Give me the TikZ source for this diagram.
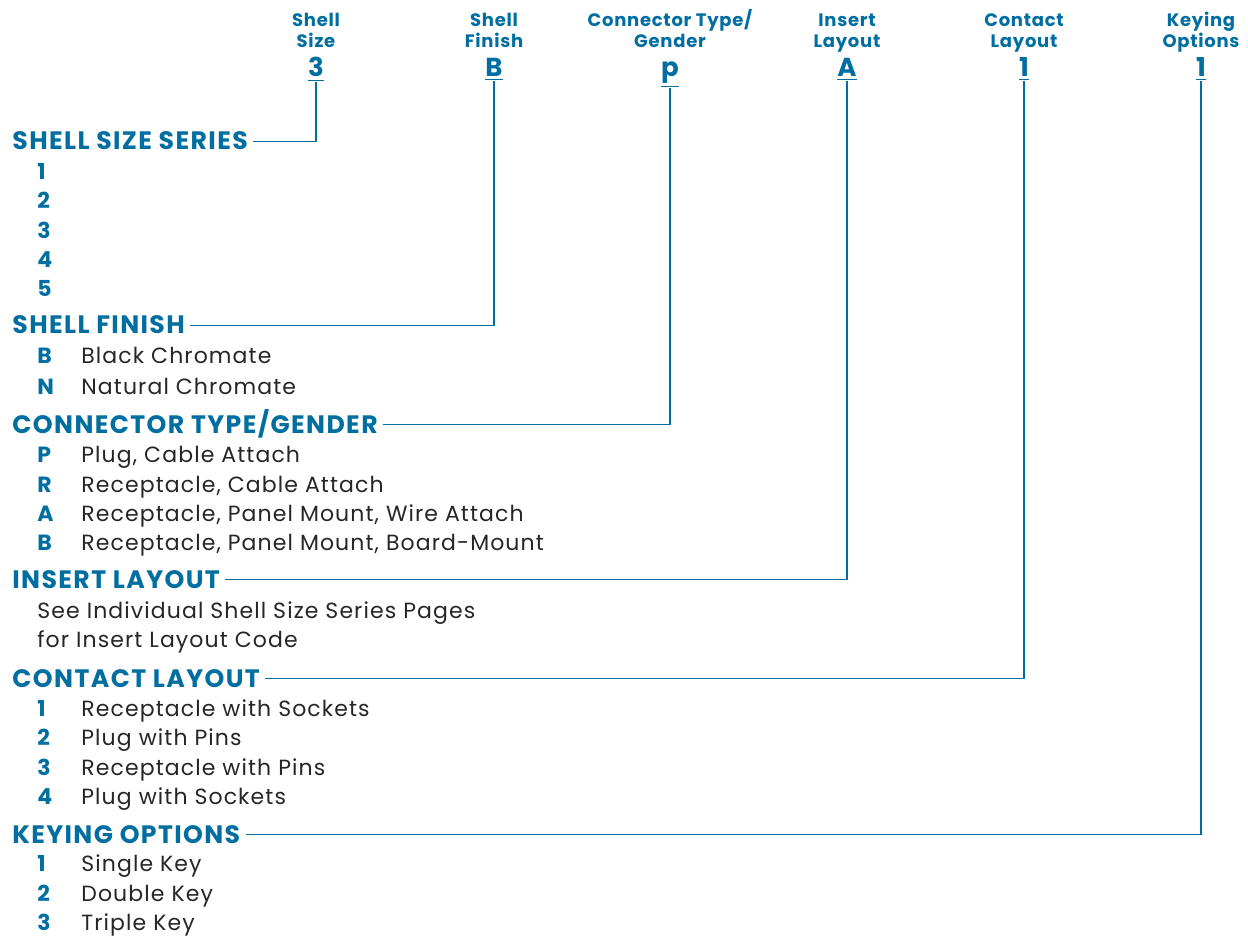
\documentclass[tikz,border=0pt]{standalone}
\usepackage{fontspec}
\setmainfont{Poppins}[LetterSpace=4]
\newfontfamily\headfont{Poppins}[LetterSpace=5.5]
\newfontfamily\bodyfont{Poppins}[LetterSpace=5]
\definecolor{specblue}{RGB}{0,110,160}
\begin{document}
\begin{tikzpicture}[x=0.5pt,y=-0.5pt,
    hdr/.style={font=\bfseries\fontsize{9}{10.5}\selectfont, text=specblue, align=center, inner sep=0pt, anchor=base},
    code/.style={font=\bfseries\fontsize{13}{15}\selectfont, text=specblue, inner sep=0pt, anchor=base},
    head/.style={font=\headfont\bfseries\fontsize{12.6}{14}\selectfont, text=specblue, inner sep=0pt, anchor=base west, text height=8.5pt, text depth=0pt},
    key/.style={font=\bfseries\fontsize{11}{12}\selectfont, text=specblue, inner sep=0pt, anchor=base west},
    desc/.style={font=\bodyfont\fontsize{11}{12}\selectfont, text=black!85, inner sep=0pt, anchor=base west},
    link/.style={specblue, line width=0.55pt}]
    \useasboundingbox (0,0) rectangle (1248,936);

    % part number fields
    \node[hdr] (tsize) at (316,48) {Shell\\Size};
    \node[hdr] (tfin) at (494,48) {Shell\\Finish};
    \node[hdr] (ttype) at (670,48) {Connector Type/\\Gender};
    \node[hdr] (tins) at (847,48) {Insert\\Layout};
    \node[hdr] (tcon) at (1024,48) {Contact\\Layout};
    \node[hdr] (tkey) at (1201,48) {Keying\\Options};
    \node[code] (csize) at (316,77) {\underline{3}};
    \node[code] (cfin) at (494,77) {\underline{B}};
    \node[code] (ctype) at (670,77) {\underline{p}};
    \node[code] (cins) at (847,77) {\underline{A}};
    \node[code] (ccon) at (1024,77) {\underline{1}};
    \node[code] (ckey) at (1201,77) {\underline{1}};

    % sections
    \node[head] (hsize) at (12,150) {SHELL SIZE SERIES};
    \foreach \k/\y in {1/180,2/209,3/239,4/268,5/297}
        \node[key] (size\k) at (37,\y) {\k};

    \node[head] (hfin) at (12,334) {SHELL FINISH};
    \foreach \k/\d/\y [count=\i] in {B/Black Chromate/364,N/Natural Chromate/394} {
        \node[key] (fink\i) at (37,\y) {\k};
        \node[desc] (find\i) at (81,\y) {\d};
    }

    \node[head] (htype) at (12,433) {CONNECTOR TYPE/GENDER};
    \foreach \k/\d/\y [count=\i] in {P/{Plug, Cable Attach}/462,R/{Receptacle, Cable Attach}/492,
        A/{Receptacle, Panel Mount, Wire Attach}/521,B/{Receptacle, Panel Mount, Board-Mount}/550} {
        \node[key] (typek\i) at (37,\y) {\k};
        \node[desc] (typed\i) at (81,\y) {\d};
    }

    \node[head] (hins) at (12,588) {INSERT LAYOUT};
    \node[desc] (ins1) at (37,618) {See Individual Shell Size Series Pages};
    \node[desc] (ins2) at (37,647) {for Insert Layout Code};

    \node[head] (hcon) at (12,687) {CONTACT LAYOUT};
    \foreach \k/\d/\y in {1/Receptacle with Sockets/716,2/Plug with Pins/745,
        3/Receptacle with Pins/775,4/Plug with Sockets/804} {
        \node[key] (conk\k) at (37,\y) {\k};
        \node[desc] (cond\k) at (81,\y) {\d};
    }

    \node[head] (hkey) at (12,843) {KEYING OPTIONS};
    \foreach \k/\d/\y in {1/Single Key/871,2/Double Key/901,3/Triple Key/930} {
        \node[key] (keyk\k) at (37,\y) {\k};
        \node[desc] (keyd\k) at (81,\y) {\d};
    }

    % leader lines
    \draw[link] (csize.south) |- ([xshift=2.5pt]hsize.east);
    \draw[link] (cfin.south) |- ([xshift=2.5pt]hfin.east);
    \draw[link] (ctype.south) |- ([xshift=2.5pt]htype.east);
    \draw[link] (cins.south) |- ([xshift=2.5pt]hins.east);
    \draw[link] (ccon.south) |- ([xshift=2.5pt]hcon.east);
    \draw[link] (ckey.south) |- ([xshift=2.5pt]hkey.east);
\end{tikzpicture}
\end{document}
